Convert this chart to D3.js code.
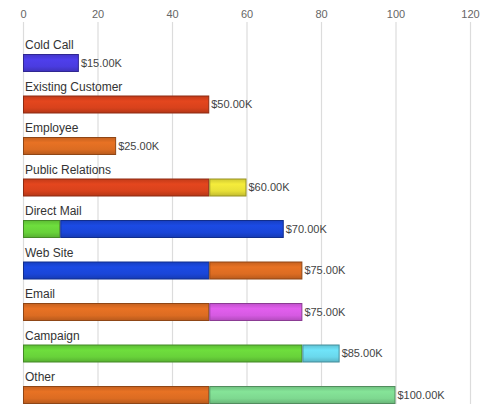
<!DOCTYPE html>
<html>
<head>
<meta charset="utf-8">
<script src="https://cdn.jsdelivr.net/npm/d3@7/dist/d3.min.js"></script>
<style>
  html, body { margin: 0; padding: 0; background: #fff; }
  svg { display: block; }
</style>
</head>
<body>
<svg id="chart" width="489" height="404"></svg>
<script>
const categories = ["Cold Call", "Existing Customer", "Employee", "Public Relations", "Direct Mail", "Web Site", "Email", "Campaign", "Other"];
const firstValues = [15, 50, 25, 50, 10, 50, 50, 75, 50];
const firstKeys = ["violet", "red", "orange", "red", "green", "blue", "orange", "green", "orange"];
const secondValues = [0, 0, 0, 10, 60, 25, 25, 10, 50];
const secondKeys = [null, null, null, "yellow", "blue", "orange", "magenta", "cyan", "mint"];
const xTicks = [0, 20, 40, 60, 80, 100, 120];

const palette = {
  violet: "#4a3ce0", blue: "#1a46d8", red: "#d8421c", orange: "#dc6c22",
  yellow: "#e8e038", green: "#68d23a", magenta: "#d65ae2", cyan: "#6ad8ec", mint: "#7ed890"
};

const svg = d3.select("#chart");
const width = 489, height = 404;
const x = d3.scaleLinear().domain([0, 120]).range([23, 470]);
const y = d3.scaleBand().domain(categories).range([36, 36 + 41.5 * categories.length]).padding(0);

// gradient defs
const defs = svg.append("defs");
Object.entries(palette).forEach(([k, c]) => {
  const g = defs.append("linearGradient").attr("id", "g-" + k).attr("x1", 0).attr("y1", 0).attr("x2", 0).attr("y2", 1);
  const base = d3.color(c);
  g.append("stop").attr("offset", "0%").attr("stop-color", base.darker(0.3));
  g.append("stop").attr("offset", "30%").attr("stop-color", base.brighter(0.15));
  g.append("stop").attr("offset", "70%").attr("stop-color", base);
  g.append("stop").attr("offset", "100%").attr("stop-color", base.darker(0.5));
});

// grid lines
const axis = d3.axisTop(x).tickValues(xTicks).tickSize(-(height - 22)).tickPadding(4);
const ag = svg.append("g").attr("transform", "translate(0,22)").call(axis);
ag.select(".domain").remove();
ag.selectAll(".tick line").attr("stroke", "#dcdcdc").attr("stroke-width", 1.2);
ag.selectAll(".tick text").attr("fill", "#666").attr("font-family", "Arial, 'Liberation Sans', sans-serif").attr("font-size", 11);

// data rows
const rows = categories.map((c, i) => ({
  cat: c,
  segs: [
    { start: 0, end: firstValues[i], key: firstKeys[i] },
    ...(secondValues[i] > 0 ? [{ start: firstValues[i], end: firstValues[i] + secondValues[i], key: secondKeys[i] }] : [])
  ],
  total: firstValues[i] + secondValues[i]
}));

const barOff = 18, barH = 17;
const row = svg.append("g").selectAll("g").data(rows).join("g");

row.append("text")
  .attr("x", 25)
  .attr("y", d => y(d.cat) + 13)
  .attr("fill", "#333")
  .attr("font-family", "Arial, 'Liberation Sans', sans-serif")
  .attr("font-size", 12)
  .text(d => d.cat);

row.selectAll("rect").data(d => d.segs.map(s => ({ ...s, cat: d.cat }))).join("rect")
  .attr("x", s => x(s.start) + 0.5)
  .attr("y", s => y(s.cat) + barOff + 0.5)
  .attr("width", s => x(s.end) - x(s.start) - 1)
  .attr("height", barH)
  .attr("fill", s => `url(#g-${s.key})`)
  .attr("stroke", s => d3.color(palette[s.key]).darker(1.2))
  .attr("stroke-width", 1);

row.append("text")
  .attr("x", d => x(d.total) + 2)
  .attr("y", d => y(d.cat) + barOff + barH / 2 + 4)
  .attr("fill", "#444")
  .attr("font-family", "Arial, 'Liberation Sans', sans-serif")
  .attr("font-size", 11)
  .text(d => "$" + d.total.toFixed(2) + "K");
</script>
</body>
</html>
